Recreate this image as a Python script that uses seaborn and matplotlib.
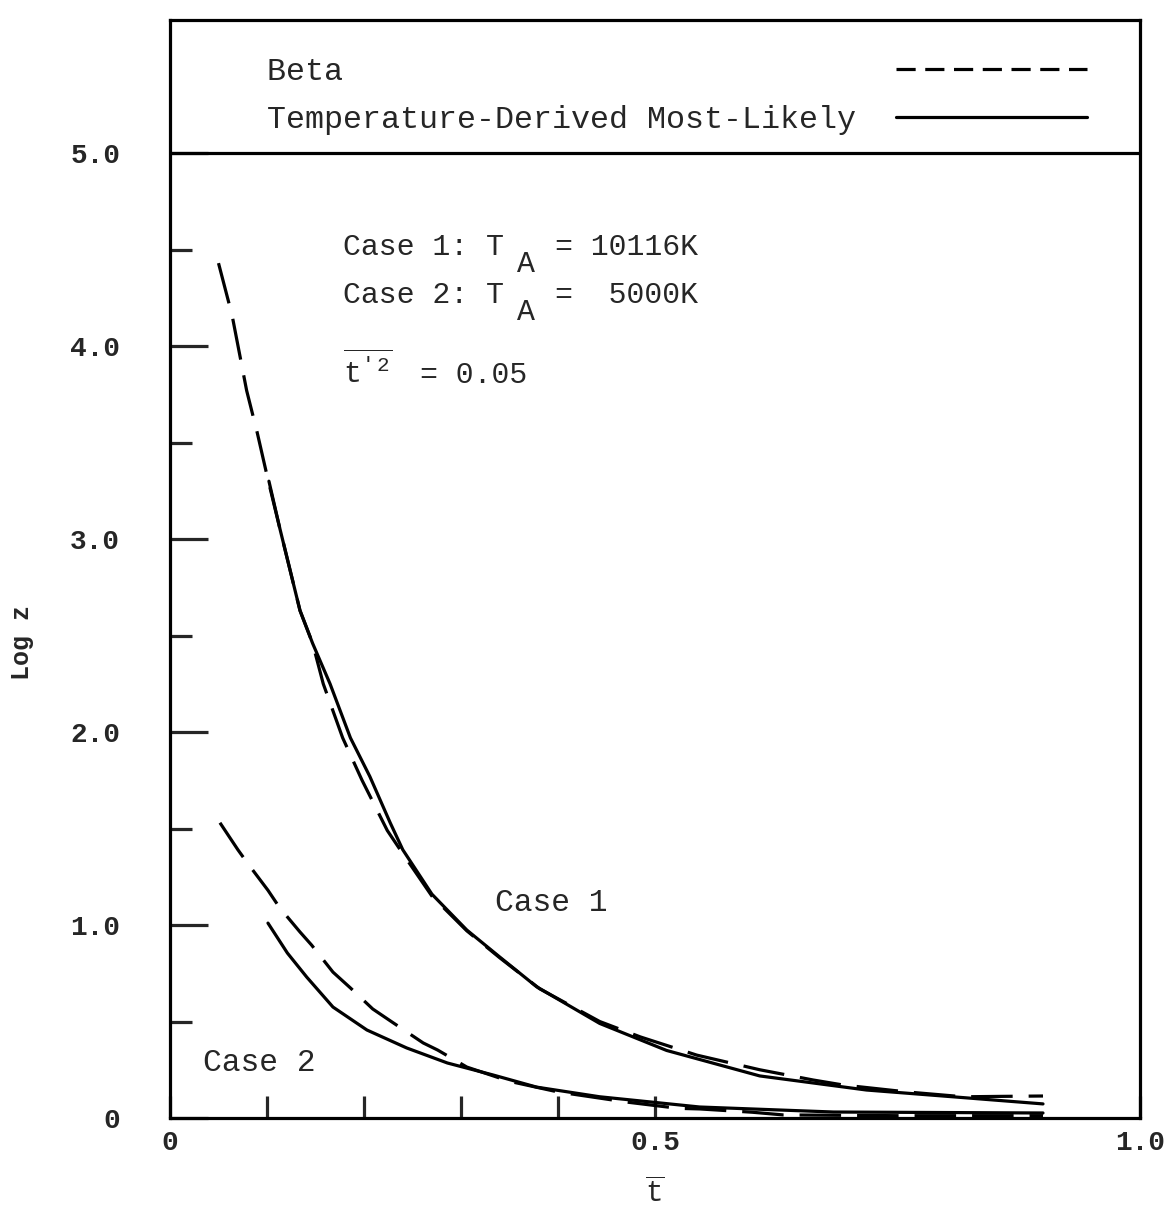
import numpy as np
import pandas as pd
import matplotlib
matplotlib.use("Agg")
import matplotlib.pyplot as plt
from matplotlib.lines import Line2D
import seaborn as sns

# ---- data ----
t_case1_beta = [0.050, 0.064, 0.079, 0.090, 0.100, 0.113, 0.134, 0.147, 0.158, 0.178,
                0.198, 0.224, 0.240, 0.270, 0.306, 0.340, 0.381, 0.443, 0.485, 0.543,
                0.608, 0.663, 0.694, 0.760, 0.818, 0.856, 0.900]
z_case1_beta = [4.43, 4.16, 3.77, 3.55, 3.33, 3.06, 2.63, 2.46, 2.25, 1.97,
                1.75, 1.49, 1.37, 1.15, 0.97, 0.83, 0.67, 0.50, 0.42, 0.326,
                0.25, 0.197, 0.171, 0.135, 0.110, 0.112, 0.114]

t_case1_ml = [0.102, 0.113, 0.134, 0.147, 0.165, 0.186, 0.206, 0.227, 0.240, 0.270,
              0.306, 0.340, 0.378, 0.443, 0.512, 0.608, 0.718, 0.822, 0.900]
z_case1_ml = [3.30, 3.06, 2.63, 2.46, 2.25, 1.97, 1.77, 1.53, 1.39, 1.16,
              0.974, 0.834, 0.68, 0.49, 0.35, 0.218, 0.145, 0.104, 0.073]

t_case2_beta = [0.0515, 0.070, 0.080, 0.101, 0.113, 0.134, 0.146, 0.168, 0.186, 0.209,
                0.229, 0.261, 0.276, 0.306, 0.350, 0.400, 0.470, 0.524, 0.546, 0.600,
                0.632, 0.750, 0.900]
z_case2_beta = [1.53, 1.39, 1.32, 1.18, 1.09, 0.964, 0.896, 0.756, 0.674, 0.565,
                0.497, 0.389, 0.352, 0.264, 0.19, 0.135, 0.083, 0.050, 0.047, 0.030,
                0.016, 0.012, 0.012]

t_case2_ml = [0.101, 0.121, 0.141, 0.168, 0.203, 0.244, 0.286, 0.333, 0.378, 0.443,
              0.546, 0.684, 0.900]
z_case2_ml = [1.01, 0.855, 0.73, 0.575, 0.456, 0.363, 0.285, 0.223, 0.16, 0.11,
              0.057, 0.031, 0.026]

legend_labels = ["Beta", "Temperature-Derived Most-Likely"]
y_major = [0, 1, 2, 3, 4, 5]
y_major_labels = ["0", "1.0", "2.0", "3.0", "4.0", "5.0"]
y_minor = [0.5, 1.5, 2.5, 3.5, 4.5]
x_major = [0, 0.5, 1.0]
x_major_labels = ["0", "0.5", "1.0"]
x_minor = [0.1, 0.2, 0.3, 0.4]

# ---- styling ----
sns.set_theme(style="white")
mono = ["Liberation Mono", "DejaVu Sans Mono"]
plt.rcParams["font.family"] = mono
plt.rcParams["mathtext.fontset"] = "custom"
plt.rcParams["mathtext.rm"] = "Liberation Mono"
plt.rcParams["mathtext.it"] = "Liberation Mono"
plt.rcParams["mathtext.bf"] = "Liberation Mono:bold"

LW = 2.3
fig = plt.figure(figsize=(11.72, 12.2), dpi=100)
ax = fig.add_axes([170 / 1172, 102 / 1220, 970 / 1172, 1098 / 1220])

curves = [
    (t_case1_beta, z_case1_beta, True),
    (t_case1_ml, z_case1_ml, False),
    (t_case2_beta, z_case2_beta, True),
    (t_case2_ml, z_case2_ml, False),
]
for t, z, dashed in curves:
    df = pd.DataFrame({"t": t, "z": z})
    sns.lineplot(data=df, x="t", y="z", ax=ax, color="black", lw=LW,
                 estimator=None, sort=False)
    if dashed:
        ax.lines[-1].set_dashes((13, 5))

ax.axhline(5.0, color="black", lw=LW)

ax.set_xlim(0, 1.0)
ax.set_ylim(0, 5.69)

for s in ax.spines.values():
    s.set_visible(True)
    s.set_color("black")
    s.set_linewidth(LW)

ax.set_yticks(y_major)
ax.set_yticklabels(y_major_labels)
ax.set_yticks(y_minor, minor=True)
ax.set_xticks(x_major)
ax.set_xticklabels(x_major_labels)
ax.set_xticks(x_minor, minor=True)

ax.tick_params(axis="y", which="major", direction="in", length=27, width=LW,
               pad=36, labelsize=20, left=True)
ax.tick_params(axis="y", which="minor", direction="in", length=16, width=LW, left=True)
ax.tick_params(axis="x", which="major", direction="in", length=16, width=LW,
               pad=9, labelsize=20, bottom=True)
ax.tick_params(axis="x", which="minor", direction="in", length=16, width=LW, bottom=True)
for lab in ax.get_yticklabels() + ax.get_xticklabels():
    lab.set_fontweight("bold")
    lab.set_family(mono)

ax.set_ylabel("")
fig.text(22 / 1172, 1 - 642 / 1220, "Log z", rotation=90, fontsize=18,
         family=mono, fontweight="bold", ha="center", va="center")
ax.set_xlabel(r"$\overline{\mathrm{t}}$", fontsize=21)
ax.xaxis.set_label_coords(0.5, -0.055)

# legend
handles = [Line2D([], [], color="black", lw=LW, dashes=(6, 3)),
           Line2D([], [], color="black", lw=LW)]
w = max(len(s) for s in legend_labels)
labels_padded = [s.ljust(w) for s in legend_labels]
leg = ax.legend(handles, labels_padded, loc="upper left",
                bbox_to_anchor=((267 - 170) / 970, 0.966), frameon=False,
                markerfirst=False, handlelength=6.0, handletextpad=1.26,
                labelspacing=0.55, borderpad=0, borderaxespad=0,
                prop={"family": mono, "size": 22.9})

# annotations
fs = 21.5
def ax_x(px):
    return (px - 170) / 970
def ax_y(py):
    return (1118 - py) / 1098

tkw = dict(transform=ax.transAxes, fontsize=fs, family=mono, va="baseline", ha="left")
ax.text(ax_x(343), ax_y(255), "Case 1: T", **tkw)
ax.text(ax_x(517), ax_y(272), "A", **tkw)
ax.text(ax_x(555), ax_y(255), "= 10116K", **tkw)
ax.text(ax_x(343), ax_y(303), "Case 2: T", **tkw)
ax.text(ax_x(517), ax_y(320), "A", **tkw)
ax.text(ax_x(555), ax_y(303), "=  5000K", **tkw)
ax.text(ax_x(343), ax_y(383), r"$\overline{\mathrm{t}'^{\,2}}$", **tkw)
ax.text(ax_x(420), ax_y(383), "= 0.05", **tkw)

ax.text(ax_x(495), ax_y(903), "Case 1", transform=ax.transAxes, fontsize=22.5,
        family=mono, va="center", ha="left")
ax.text(ax_x(203), ax_y(1063), "Case 2", transform=ax.transAxes, fontsize=22.5,
        family=mono, va="center", ha="left")

fig.savefig("out.png", dpi=100, facecolor="white")
